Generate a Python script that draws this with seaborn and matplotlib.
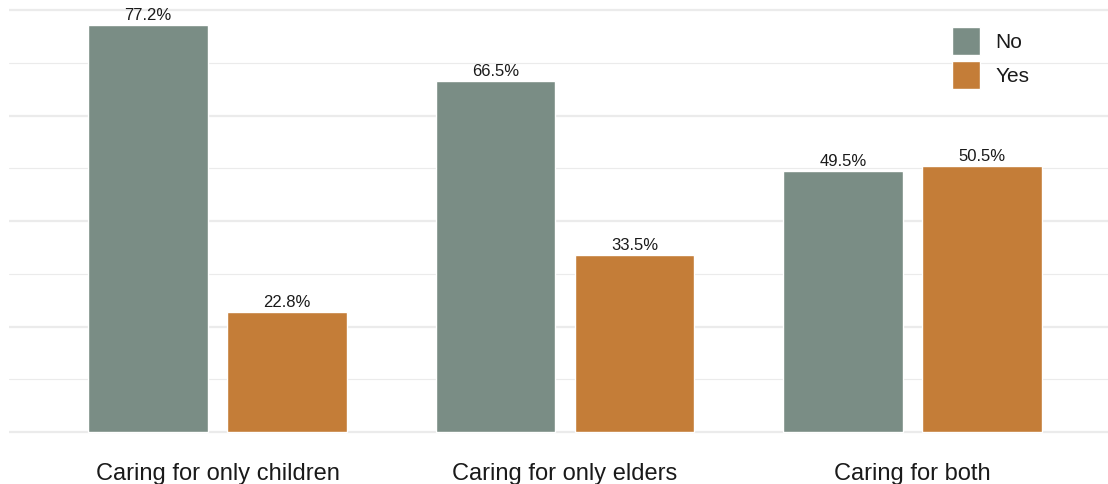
import matplotlib
matplotlib.use("Agg")
import matplotlib.pyplot as plt
import seaborn as sns
import pandas as pd
from matplotlib.ticker import MultipleLocator

categories = ["Caring for only children", "Caring for only elders", "Caring for both"]
no_values = [77.2, 66.5, 49.5]
yes_values = [22.8, 33.5, 50.5]
groups = ["No", "Yes"]
colors = {"No": "#7A8D85", "Yes": "#C47D38"}

df = pd.DataFrame({
    "category": categories * 2,
    "group": ["No"] * 3 + ["Yes"] * 3,
    "value": no_values + yes_values,
})

sns.set_theme(style="white")
plt.rcParams["font.family"] = ["Liberation Sans", "DejaVu Sans"]

W, H = 1108, 484
fig = plt.figure(figsize=(W / 100, H / 100), dpi=100)
ppu = (432 - 10) / 80.0
ylo, yhi = -1.0, 81.9
bottom_px = 432 + (0 - ylo) * ppu
top_px = 432 - yhi * ppu
ax = fig.add_axes([9 / W, 1 - bottom_px / H, 1 - 9 / W, (bottom_px - top_px) / H])

sns.barplot(data=df, x="category", y="value", hue="group", hue_order=groups,
            order=categories, palette=colors, width=0.8, gap=0.137, saturation=1,
            edgecolor="white", linewidth=1.0, ax=ax, zorder=3)

for c in ax.containers:
    ax.bar_label(c, fmt="%.1f%%", padding=1.5, fontsize=12, color="#1a1a1a")

ax.set_ylim(ylo, yhi)
ax.set_xlim(-0.6, 2.5626)
ax.yaxis.set_major_locator(MultipleLocator(20))
ax.yaxis.set_minor_locator(MultipleLocator(10))
ax.grid(axis="y", which="major", color="#EBEBEB", linewidth=1.6, zorder=0)
ax.grid(axis="y", which="minor", color="#EBEBEB", linewidth=0.8, zorder=0)
ax.grid(axis="x", visible=False)
ax.set_axisbelow(True)
ax.tick_params(axis="y", which="both", left=False, labelleft=False)
ax.tick_params(axis="x", length=0, pad=18.5, labelsize=17, labelcolor="#1a1a1a")
ax.set_xlabel("")
ax.set_ylabel("")
for s in ax.spines.values():
    s.set_visible(False)

handles, labels = ax.get_legend_handles_labels()
leg = ax.legend(handles, labels, loc="upper left",
                bbox_to_anchor=(952 / W, 1 - 27 / H), bbox_transform=fig.transFigure,
                frameon=False, fontsize=15, handlelength=1.35, handleheight=1.69,
                handletextpad=0.72, labelspacing=0.29, borderpad=0, borderaxespad=0)
for t in leg.get_texts():
    t.set_color("#1a1a1a")

fig.savefig("out.png", dpi=100, facecolor="white")
